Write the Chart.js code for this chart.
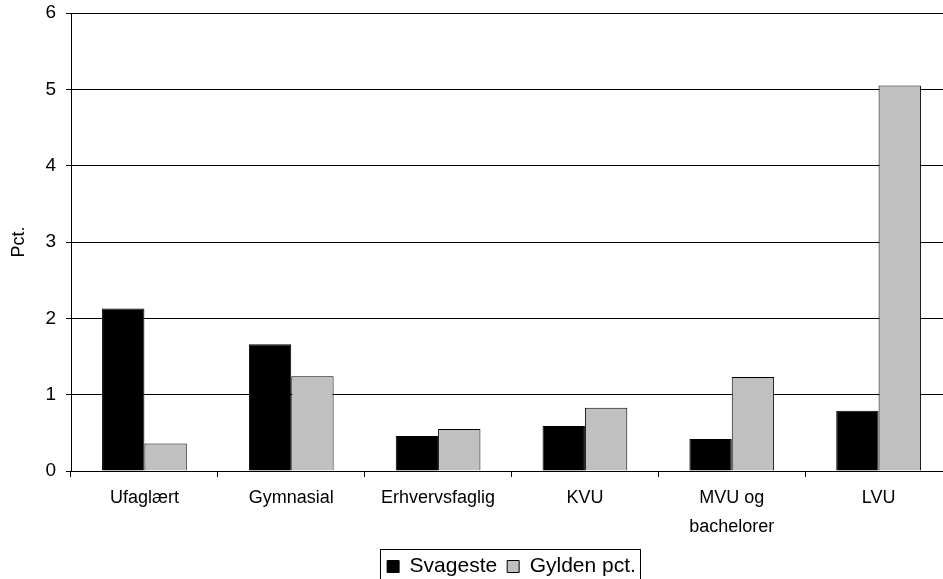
<!DOCTYPE html>
<html>
<head>
<meta charset="utf-8">
<script src="https://cdn.jsdelivr.net/npm/chart.js@4"></script>
<style>
  html, body { margin: 0; padding: 0; background: #fff; overflow: hidden; }
  #graf { display: block; }
</style>
</head>
<body>
<canvas id="graf" width="952" height="587"></canvas>
<script>
const kategorier = ["Ufaglært", "Gymnasial", "Erhvervsfaglig", "KVU", ["MVU og", "bachelorer"], "LVU"];
const svageste = [2.13, 1.66, 0.46, 0.59, 0.42, 0.79];
const gylden = [0.36, 1.24, 0.55, 0.83, 1.23, 5.05];
const yTicks = [0, 1, 2, 3, 4, 5, 6];

const skrift = "'Liberation Sans', Arial, sans-serif";

// flytter forklaringen, så den står midt under plotområdet
const legendMidt = {
  id: "legendMidt",
  afterLayout(chart) {
    const lg = chart.legend;
    const flyt = (chart.chartArea.left + chart.chartArea.right) / 2 - (lg.left + lg.right) / 2;
    lg.left += flyt;
    lg.right += flyt;
  }
};

// tegner en ramme rundt om forklaringen
const legendRamme = {
  id: "legendRamme",
  afterDraw(chart) {
    const boxes = chart.legend.legendHitBoxes;
    if (!boxes || !boxes.length) return;
    const c = chart.ctx;
    const left = Math.min(...boxes.map(b => b.left));
    const right = Math.max(...boxes.map(b => b.left + b.width));
    const midt = boxes[0].top + boxes[0].height / 2;
    c.save();
    c.strokeStyle = "#000";
    c.lineWidth = 1;
    c.strokeRect(Math.round(left - 7) + 0.5, Math.round(midt - 18) + 0.5, Math.round(right - left + 11), 36);
    c.restore();
  }
};

const ctx = document.getElementById("graf").getContext("2d");
const chart = new Chart(ctx, {
  type: "bar",
  data: {
    labels: kategorier,
    datasets: [
      {
        label: "Svageste",
        data: svageste,
        backgroundColor: "#000000",
        borderColor: "#000000",
        borderWidth: 1,
        categoryPercentage: 0.577,
        barPercentage: 1.0,
      },
      {
        label: "Gylden pct.",
        data: gylden,
        backgroundColor: "#c0c0c0",
        borderColor: "#000000",
        borderWidth: 1,
        categoryPercentage: 0.577,
        barPercentage: 1.0,
      },
    ],
  },
  options: {
    responsive: false,
    animation: false,
    layout: { padding: { top: 13, left: 0, right: 0, bottom: 0 } },
    scales: {
      x: {
        offset: true,
        grid: { display: true, drawOnChartArea: false, drawTicks: true, tickLength: 6, color: "#000" },
        border: { color: "#000", width: 1 },
        ticks: {
          color: "#000",
          font: { family: skrift, size: 18, lineHeight: 1.6 },
          padding: 7,
          maxRotation: 0,
          autoSkip: false,
        },
        afterFit(scale) {
          scale.height = 75;
          scale.paddingLeft = 0;
          scale.paddingRight = 0;
        },
      },
      y: {
        min: 0,
        max: 6,
        afterBuildTicks(scale) { scale.ticks = yTicks.map(v => ({ value: v })); },
        grid: { color: "#000", tickLength: 5, drawTicks: true },
        border: { color: "#000", width: 1 },
        ticks: {
          color: "#000",
          font: { family: skrift, size: 19 },
          padding: 10,
        },
        title: {
          display: true,
          text: "Pct.",
          color: "#000",
          font: { family: skrift, size: 18 },
          padding: { top: 8, bottom: 0 },
        },
        afterFit(scale) {
          scale.width = 71;
          scale.paddingTop = 0;
          scale.paddingBottom = 0;
        },
      },
    },
    plugins: {
      legend: {
        position: "bottom",
        labels: {
          color: "#000",
          font: { family: skrift, size: 21 },
          boxWidth: 12,
          boxHeight: 12,
          padding: 10,
        },
      },
      tooltip: { enabled: false },
    },
  },
  plugins: [legendMidt, legendRamme],
});
</script>
</body>
</html>
